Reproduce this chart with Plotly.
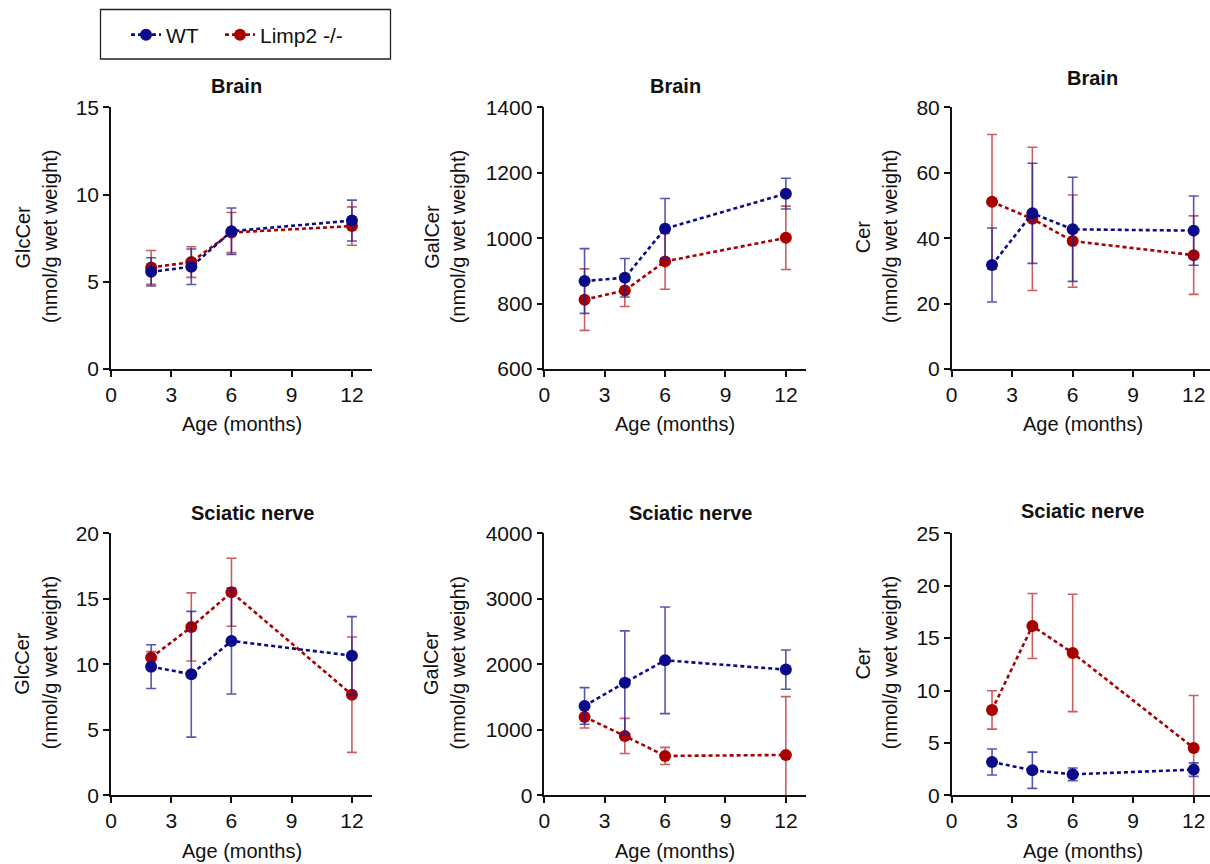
import plotly.graph_objects as go

W, H = 1210, 864

ages = [2, 4, 6, 12]
x_ticks = [0, 3, 6, 9, 12]

# Brain
brain_glccer_wt = [5.57, 5.86, 7.90, 8.51]
brain_glccer_wt_sd = [0.81, 1.02, 1.33, 1.17]
brain_glccer_ko = [5.82, 6.13, 7.82, 8.19]
brain_glccer_ko_sd = [0.97, 0.88, 1.15, 1.10]

brain_galcer_wt = [869, 879, 1029, 1136]
brain_galcer_wt_sd = [99, 59, 92, 47]
brain_galcer_ko = [812, 840, 929, 1001]
brain_galcer_ko_sd = [94, 49, 85, 97]

brain_cer_wt = [31.8, 47.6, 42.7, 42.3]
brain_cer_wt_sd = [11.3, 15.3, 15.9, 10.6]
brain_cer_ko = [51.1, 45.9, 39.1, 34.8]
brain_cer_ko_sd = [20.6, 21.9, 14.1, 12.0]

# Sciatic nerve
sciatic_glccer_wt = [9.82, 9.24, 11.78, 10.66]
sciatic_glccer_wt_sd = [1.67, 4.80, 4.05, 2.98]
sciatic_glccer_ko = [10.51, 12.85, 15.50, 7.68]
sciatic_glccer_ko_sd = [0.46, 2.60, 2.60, 4.40]

sciatic_galcer_wt = [1364, 1720, 2061, 1919]
sciatic_galcer_wt_sd = [280, 790, 814, 300]
sciatic_galcer_ko = [1196, 906, 601, 616]
sciatic_galcer_ko_sd = [168, 268, 130, 890]

sciatic_cer_wt = [3.18, 2.39, 2.00, 2.45]
sciatic_cer_wt_sd = [1.24, 1.73, 0.60, 0.64]
sciatic_cer_ko = [8.14, 16.16, 13.58, 4.52]
sciatic_cer_ko_sd = [1.83, 3.10, 5.60, 5.00]

panel_titles = ["Brain", "Brain", "Brain", "Sciatic nerve", "Sciatic nerve", "Sciatic nerve"]
y_labels = ["GlcCer", "GalCer", "Cer", "GlcCer", "GalCer", "Cer"]
y_unit = "(nmol/g wet weight)"
x_label = "Age (months)"
series_names = ["WT", "Limp2 -/-"]

panels = [
    (brain_glccer_wt, brain_glccer_wt_sd, brain_glccer_ko, brain_glccer_ko_sd, [0, 15], 5),
    (brain_galcer_wt, brain_galcer_wt_sd, brain_galcer_ko, brain_galcer_ko_sd, [600, 1400], 200),
    (brain_cer_wt, brain_cer_wt_sd, brain_cer_ko, brain_cer_ko_sd, [0, 80], 20),
    (sciatic_glccer_wt, sciatic_glccer_wt_sd, sciatic_glccer_ko, sciatic_glccer_ko_sd, [0, 20], 5),
    (sciatic_galcer_wt, sciatic_galcer_wt_sd, sciatic_galcer_ko, sciatic_galcer_ko_sd, [0, 4000], 1000),
    (sciatic_cer_wt, sciatic_cer_wt_sd, sciatic_cer_ko, sciatic_cer_ko_sd, [0, 25], 5),
]

FONT = "Liberation Sans, Arial, Helvetica, sans-serif"
WT_COLOR = "#0b0b8a"
KO_COLOR = "#a80000"
WT_ERR = "rgba(30,30,150,0.75)"
KO_ERR = "rgba(185,30,30,0.72)"

# pixel layout
col_px = [(111, 372), (544.3, 806), (951.7, 1210)]
row_px = [(107.3, 369), (533.3, 795.3)]
x_ranges = [[0, 13], [0, 13], [0, 12.81]]

title_pos = [(236, 86), (675.7, 85.7), (1092.7, 78.3), (252.5, 512.7), (690, 513.3), (1082.3, 510.7)]
ylab1_x = [22.5, 431.7, 863.3]
ylab2_x = [50, 458.3, 890]
ylab_y = [237, 663.3]
xlab_pos = [(242, 424), (675, 424), (1082.5, 424), (242, 850.5), (675, 850.5), (1082.5, 850.5)]


def px(x):
    return x / W


def py(y):
    return 1 - y / H


fig = go.Figure()
annotations = []
layout_axes = {}

for i, (wt, wt_sd, ko, ko_sd, yr, dt) in enumerate(panels):
    r, c = divmod(i, 3)
    n = i + 1
    xs = "" if n == 1 else str(n)
    xref, yref = "x" + xs, "y" + xs

    fig.add_trace(go.Scatter(
        x=ages, y=ko, name=series_names[1], mode="lines+markers",
        line=dict(color=KO_COLOR, width=2.6, dash="4px,3px"),
        marker=dict(color=KO_COLOR, size=12),
        error_y=dict(type="data", array=ko_sd, visible=True, color=KO_ERR, thickness=1.6, width=5),
        xaxis=xref, yaxis=yref, showlegend=(n == 1), legendrank=2, legendgroup="ko",
        legendwidth=100,
    ))
    fig.add_trace(go.Scatter(
        x=ages, y=wt, name=series_names[0], mode="lines+markers",
        line=dict(color=WT_COLOR, width=2.6, dash="4px,3px"),
        marker=dict(color=WT_COLOR, size=12),
        error_y=dict(type="data", array=wt_sd, visible=True, color=WT_ERR, thickness=1.6, width=5),
        xaxis=xref, yaxis=yref, showlegend=(n == 1), legendrank=1, legendgroup="wt",
        legendwidth=49,
    ))

    axis_common = dict(
        showline=True, linecolor="#111", linewidth=1.5, ticks="outside", ticklen=6,
        tickwidth=1.5, tickcolor="#111", showgrid=False, zeroline=False, automargin=False,
        tickfont=dict(family=FONT, size=21, color="#111"), fixedrange=True,
    )
    layout_axes["xaxis" + xs] = dict(
        domain=[px(col_px[c][0]), px(col_px[c][1])], range=x_ranges[c],
        tickvals=x_ticks, anchor=yref, **axis_common)
    layout_axes["yaxis" + xs] = dict(
        domain=[py(row_px[r][1]), py(row_px[r][0])], range=yr,
        tick0=yr[0], dtick=dt, anchor=xref, **axis_common)

    tx, ty = title_pos[i]
    annotations.append(dict(text="<b>" + panel_titles[i] + "</b>", x=px(tx), y=py(ty),
                            xref="paper", yref="paper", xanchor="center", yanchor="middle",
                            showarrow=False, font=dict(family=FONT, size=20, color="#111")))
    annotations.append(dict(text=y_labels[i], x=px(ylab1_x[c]), y=py(ylab_y[r]),
                            xref="paper", yref="paper", xanchor="center", yanchor="middle",
                            textangle=-90, showarrow=False,
                            font=dict(family=FONT, size=20, color="#111")))
    annotations.append(dict(text=y_unit, x=px(ylab2_x[c]), y=py(ylab_y[r]),
                            xref="paper", yref="paper", xanchor="center", yanchor="middle",
                            textangle=-90, showarrow=False,
                            font=dict(family=FONT, size=20, color="#111")))
    lx, ly = xlab_pos[i]
    annotations.append(dict(text=x_label, x=px(lx), y=py(ly),
                            xref="paper", yref="paper", xanchor="center", yanchor="middle",
                            showarrow=False, font=dict(family=FONT, size=20, color="#111")))

fig.update_layout(
    width=W, height=H,
    margin=dict(l=0, r=0, t=0, b=0, autoexpand=False),
    paper_bgcolor="white", plot_bgcolor="white",
    font=dict(family=FONT, size=20, color="#111"),
    showlegend=True,
    legend=dict(
        orientation="h", x=px(126), y=py(35), xanchor="left", yanchor="middle",
        font=dict(family=FONT, size=21, color="#111"), bgcolor="rgba(0,0,0,0)",
        borderwidth=0, itemclick=False, itemdoubleclick=False,
    ),
    shapes=[dict(type="rect", xref="paper", yref="paper",
                 x0=px(100.5), x1=px(390.5), y0=py(59), y1=py(9.5),
                 line=dict(color="#222", width=1.3), fillcolor="rgba(0,0,0,0)")],
    annotations=annotations,
    **layout_axes,
)

fig.write_html("out.html")
